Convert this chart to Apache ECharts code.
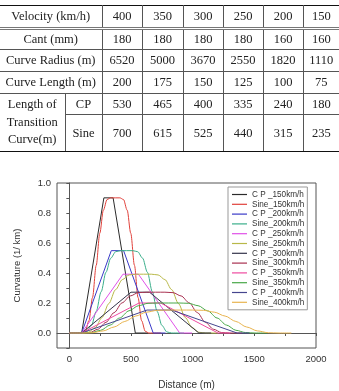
<!DOCTYPE html>
<html>
<head>
<meta charset="utf-8">
<script src="https://cdn.jsdelivr.net/npm/echarts@6/dist/echarts.min.js"></script>
<style>
html,body{margin:0;padding:0;background:#fff;}
#main{position:absolute;left:0;top:0;width:339px;height:391px;}
#tbl{position:absolute;left:0;top:5px;border-collapse:collapse;table-layout:fixed;width:339px;
  font-family:"Liberation Serif","DejaVu Serif",serif;font-size:12.5px;color:#222;z-index:2;}
#tbl td{border:1px solid #555;text-align:center;padding:0;white-space:nowrap;}
#tbl td.l0{border-left:none;}
#tbl td.r0{border-right:none;}
#tbl tr.hd td{border-top:1.5px solid #111;border-bottom:3px double #777;}
#tbl td.bt{border-bottom:1.5px solid #111;}
#tbl td.lt{line-height:17.5px;}
</style>
</head>
<body>
<table id="tbl"></table>
<div id="main"></div>
<script>
// 表格数据
var velocities = [400, 350, 300, 250, 200, 150];
var cantMm = [180, 180, 180, 180, 160, 160];
var curveRadius = [6520, 5000, 3670, 2550, 1820, 1110];
var curveLength = [200, 175, 150, 125, 100, 75];
var cpLength = [530, 465, 400, 335, 240, 180];
var sineLength = [700, 615, 525, 440, 315, 235];

// 坐标轴刻度
var xTicks = [0, 250, 500, 750, 1000, 1250, 1500, 1750, 2000];
var xLabels = [0, 500, 1000, 1500, 2000];
var yTicks = [-0.1, 0, 0.1, 0.2, 0.3, 0.4, 0.5, 0.6, 0.7, 0.8, 0.9, 1.0];
var yLabels = [0, 0.2, 0.4, 0.6, 0.8, 1.0];

// 曲率曲线 (距离 m, 曲率 1/km)
var cp150 = [[0,0],[100,0],[280,0.901],[355,0.901],[535,0],[635,0]];
var sine150 = [[0,0],[100,0],[129,0.011],[159,0.082],[188,0.237],[218,0.451],[247,0.665],[276,0.819],[306,0.890],[335,0.901],
  [410,0.901],[439,0.890],[469,0.819],[498,0.665],[528,0.451],[557,0.237],[586,0.082],[616,0.011],[645,0],[745,0]];
var cp200 = [[0,0],[100,0],[340,0.549],[440,0.549],[680,0],[780,0]];
var sine200 = [[0,0],[100,0],[139,0.007],[179,0.050],[218,0.144],[258,0.275],[297,0.405],[336,0.499],[376,0.542],[415,0.549],
  [515,0.549],[554,0.542],[594,0.499],[633,0.405],[673,0.275],[712,0.144],[751,0.050],[791,0.007],[830,0],[930,0]];
var cp250 = [[0,0],[100,0],[435,0.392],[560,0.392],[895,0],[995,0]];
var sine250 = [[0,0],[100,0],[155,0.005],[210,0.036],[265,0.103],[320,0.196],[375,0.289],[430,0.356],[485,0.387],[540,0.392],
  [665,0.392],[720,0.387],[775,0.356],[830,0.289],[885,0.196],[940,0.103],[995,0.036],[1050,0.005],[1105,0],[1205,0]];
var cp300 = [[0,0],[100,0],[500,0.272],[650,0.272],[1050,0],[1150,0]];
var sine300 = [[0,0],[100,0],[166,0.003],[231,0.025],[297,0.071],[363,0.136],[428,0.201],[494,0.247],[559,0.269],[625,0.272],
  [775,0.272],[841,0.269],[906,0.247],[972,0.201],[1038,0.136],[1103,0.071],[1169,0.025],[1234,0.003],[1300,0],[1400,0]];
var cp350 = [[0,0],[100,0],[565,0.200],[740,0.200],[1205,0],[1305,0]];
var sine350 = [[0,0],[100,0],[177,0.003],[254,0.018],[331,0.053],[408,0.100],[484,0.148],[561,0.182],[638,0.198],[715,0.200],
  [890,0.200],[967,0.198],[1044,0.182],[1121,0.148],[1198,0.100],[1274,0.053],[1351,0.018],[1428,0.003],[1505,0],[1605,0]];
var cp400 = [[0,0],[100,0],[630,0.153],[830,0.153],[1360,0],[1460,0]];
var sine400 = [[0,0],[100,0],[188,0.002],[275,0.014],[363,0.040],[450,0.077],[538,0.113],[625,0.139],[713,0.151],[800,0.153],
  [1000,0.153],[1088,0.151],[1175,0.139],[1263,0.113],[1350,0.077],[1438,0.040],[1525,0.014],[1613,0.002],[1700,0],[1800,0]];

var seriesNames = ['C P _150km/h','Sine_150km/h','C P _200km/h','Sine_200km/h','C P _250km/h','Sine_250km/h',
  'C P _300km/h','Sine_300km/h','C P _350km/h','Sine_350km/h','C P _400km/h','Sine_400km/h'];
var seriesData = [cp150, sine150, cp200, sine200, cp250, sine250, cp300, sine300, cp350, sine350, cp400, sine400];
var seriesColors = ['#2b2b2b','#e0403a','#3a3ac8','#3aae8a','#e050e8','#b8b848',
  '#34344a','#a83050','#ee4aa0','#48a848','#45458e','#e8b450'];

// 生成表格
function cells(arr, cls){
  var s = '';
  for(var i=0;i<arr.length;i++){
    var c = cls ? [cls] : [];
    if(i==arr.length-1) c.push('r0');
    s += '<td' + (c.length ? ' class="' + c.join(' ') + '"' : '') + '>' + arr[i] + '</td>';
  }
  return s;
}
var html = '<colgroup><col style="width:65px"><col style="width:37px"><col style="width:40px"><col style="width:41px">' +
  '<col style="width:40px"><col style="width:40px"><col style="width:40px"><col style="width:36px"></colgroup>';
html += '<tr class="hd" style="height:23px"><td class="l0" colspan="2">Velocity (km/h)</td>' + cells(velocities) + '</tr>';
html += '<tr style="height:21px"><td class="l0" colspan="2">Cant (mm)</td>' + cells(cantMm) + '</tr>';
html += '<tr style="height:22px"><td class="l0" colspan="2">Curve Radius (m)</td>' + cells(curveRadius) + '</tr>';
html += '<tr style="height:22px"><td class="l0" colspan="2">Curve Length (m)</td>' + cells(curveLength) + '</tr>';
html += '<tr style="height:21px"><td class="l0 lt bt" rowspan="2">Length of<br>Transition<br>Curve(m)</td><td>CP</td>' + cells(cpLength) + '</tr>';
html += '<tr style="height:37px"><td class="bt">Sine</td>' + cells(sineLength, 'bt') + '</tr>';
document.getElementById('tbl').innerHTML = html;

// 图表
var myChart = echarts.init(document.getElementById('main'));
var axisColor = '#555';
var fontFam = '"Liberation Sans", Arial, sans-serif';

var series = [];
for(var i=0;i<seriesData.length;i++){
  series.push({
    name: seriesNames[i],
    type: 'line',
    data: seriesData[i],
    symbol: 'none',
    showSymbol: false,
    smooth: i % 2 == 1 ? 0.3 : false,
    smoothMonotone: 'x',
    lineStyle: {width: 1, color: seriesColors[i]},
    itemStyle: {color: seriesColors[i]}
  });
}

var option = {
  animation: false,
  grid: {left: 57, right: 23, top: 183, bottom: 31, show: true, borderColor: axisColor, borderWidth: 1},
  legend: {
    orient: 'vertical',
    left: 228,
    top: 187,
    padding: [3, 3, 3, 4],
    borderColor: '#999',
    borderWidth: 1,
    icon: 'rect',
    itemWidth: 15,
    itemHeight: 1.2,
    itemGap: 0.8,
    textStyle: {fontSize: 8.2, lineHeight: 9, color: '#333', fontFamily: fontFam},
    data: seriesNames
  },
  xAxis: {
    type: 'value', min: -100, max: 2000,
    axisLine: {show: true, lineStyle: {color: axisColor}},
    axisTick: {show: true, length: 3, customValues: xTicks, lineStyle: {color: axisColor}},
    splitLine: {show: false},
    axisLabel: {fontSize: 9.5, color: '#333', fontFamily: fontFam, margin: 6, customValues: xLabels,
      formatter: function(v){ return String(v); }},
    name: 'Distance (m)', nameLocation: 'middle', nameGap: 32,
    nameTextStyle: {fontSize: 10, color: '#333', fontFamily: fontFam}
  },
  yAxis: {
    type: 'value', min: -0.1, max: 1.0,
    axisLine: {show: true, lineStyle: {color: axisColor}},
    axisTick: {show: true, length: 3, customValues: yTicks, lineStyle: {color: axisColor}},
    splitLine: {show: false},
    axisLabel: {fontSize: 9.5, color: '#333', fontFamily: fontFam, margin: 6, customValues: yLabels,
      formatter: function(v){ return v.toFixed(1); }},
    name: 'Curvature (1/ km)', nameLocation: 'middle', nameGap: 35, nameRotate: 90,
    nameTextStyle: {fontSize: 9.5, color: '#333', fontFamily: fontFam}
  },
  series: series
};
myChart.setOption(option);
</script>
</body>
</html>
